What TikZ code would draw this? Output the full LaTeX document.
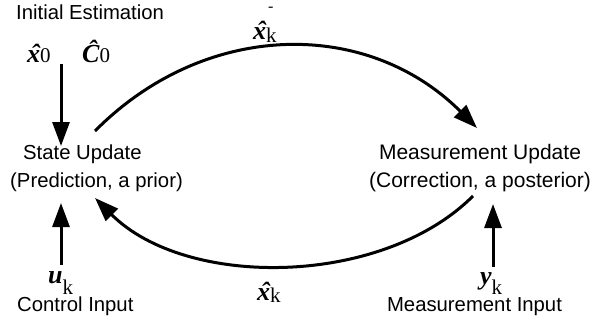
\documentclass[tikz,border=0pt]{standalone}
\usepackage{fontspec}
\setmainfont{Liberation Sans}
\newfontfamily\tms{Liberation Serif}
\usetikzlibrary{arrows.meta}
\newcommand\bv[1]{{\tms\bfseries\itshape\fontsize{26}{26}\selectfont #1}}
\newcommand\hatted[2][0pt]{\ooalign{\bv{#2}\cr\hidewidth\kern3pt\raisebox{#1}{\bv{ˆ}}\hidewidth\cr}}
\newcommand\sbs[2]{\raisebox{#1}{\tms\fontsize{21}{21}\selectfont #2}}
\begin{document}
\begin{tikzpicture}[x=1pt,y=-1pt,
  lbl/.style={inner sep=0pt,font=\fontsize{20.3}{24}\selectfont},
  lblb/.style={inner sep=0pt,font=\fontsize{21}{24}\selectfont},
  sym/.style={inner sep=0pt},
  conn/.style={line width=3pt,-{Triangle[length=24pt,width=17pt]}}]
\useasboundingbox (0,0) rectangle (601,321);
% texts
\node[lbl,anchor=base west] (init) at (16,19.5) {Initial Estimation};
\node[sym,anchor=base west] (x0) at (27,63) {\hatted{x}\sbs{0pt}{0}};
\node[sym,anchor=base west] (c0) at (82,63) {\hatted[5pt]{C}\sbs{0pt}{0}};
\node[lbl,anchor=base west] (st1) at (23,159) {State Update};
\node[lbl,anchor=base west] (st2) at (10,187) {(Prediction, a prior)};
\node[lblb,anchor=base] (me1) at (480,159) {Measurement Update};
\node[lblb,anchor=base] (me2) at (480,187) {(Correction, a posterior)};
\node[sym,anchor=base west] (uk) at (48,283) {\bv{u}\sbs{-11pt}{k}};
\node[lbl,anchor=base west] (ci) at (17,311) {Control Input};
\node[sym,anchor=base west] (yk) at (480,284) {\bv{y}\sbs{-10pt}{k}};
\node[lbl,anchor=base] (mi) at (474.5,311) {Measurement Input};
\node[sym,anchor=base west] (xkb) at (257,300) {\hatted{x}\sbs{-2pt}{k}};
\node[sym,anchor=base west] (xkt) at (253,39) {\hatted{x}\rlap{\kern2pt\raisebox{27pt}{\tms\fontsize{16}{16}\selectfont -}}\sbs{-3pt}{k}};
% connectors
\coordinate (d1) at (61,64);
\coordinate (d2) at (61,146);
\draw[conn] (d1) -- (d2);
\coordinate (u1) at (61,265);
\coordinate (u2) at (61,203);
\draw[conn] (u1) -- (u2);
\coordinate (y1) at (493,267);
\coordinate (y2) at (493,204);
\draw[conn] (y1) -- (y2);
\coordinate (topS) at (95,131);
\coordinate (topE) at (477,128);
\draw[conn] (topS) .. controls (205,20) and (367,18) .. (topE);
\coordinate (botS) at (473,196);
\coordinate (botE) at (95,198);
\draw[conn] (botS) .. controls (382,287) and (186,289) .. (botE);
\end{tikzpicture}
\end{document}
